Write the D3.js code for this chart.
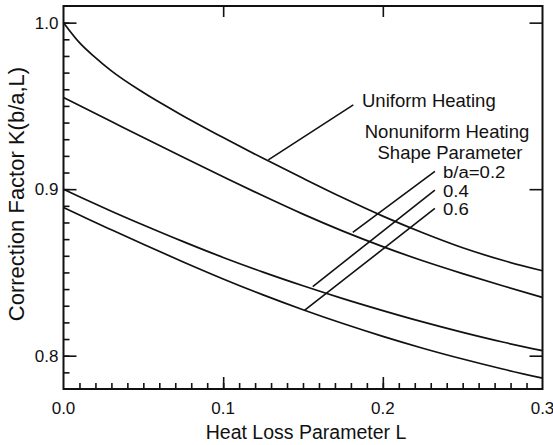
<!DOCTYPE html>
<html>
<head>
<meta charset="utf-8">
<script src="https://cdn.jsdelivr.net/npm/d3@7/dist/d3.min.js"></script>
<style>
  html, body { margin: 0; padding: 0; background: #fff; }
  svg { display: block; font-family: "Liberation Sans", Arial, Helvetica, sans-serif; }
</style>
</head>
<body>
<svg id="chart" width="553" height="445"></svg>
<script>
// Heat loss parameter L (x values shared by every curve)
const heatLoss = [0, 0.01, 0.02, 0.03, 0.05, 0.075, 0.1, 0.125, 0.15, 0.175, 0.2, 0.225, 0.25, 0.275, 0.3];

// Correction factor K(b/a, L) for each heating case
const uniform = [1.000, 0.988, 0.979, 0.971, 0.958, 0.944, 0.931, 0.9185, 0.9065, 0.8948, 0.8838, 0.8738, 0.8648, 0.8573, 0.851];
const shape02 = [0.955, 0.9502, 0.9454, 0.9406, 0.9310, 0.9192, 0.9075, 0.896, 0.885, 0.8748, 0.8655, 0.857, 0.8493, 0.842, 0.835];
const shape04 = [0.900, 0.8955, 0.8911, 0.8868, 0.8785, 0.8685, 0.8590, 0.8502, 0.8420, 0.8343, 0.8271, 0.8203, 0.8140, 0.8082, 0.803];
const shape06 = [0.889, 0.8845, 0.880, 0.8756, 0.8669, 0.8563, 0.8461, 0.8365, 0.8276, 0.8193, 0.8116, 0.8045, 0.798, 0.792, 0.7865];

const xTicks = [0.0, 0.1, 0.2, 0.3];
const yTicks = [0.8, 0.9, 1.0];

// Annotation text
const uniformLabel = "Uniform Heating";
const nonuniformLines = ["Nonuniform Heating", "Shape Parameter"];
const shapeLabels = ["b/a=0.2", "0.4", "0.6"];

const svg = d3.select("#chart");
const plotLeft = 63.5, plotRight = 542.5, plotTop = 6, plotBottom = 389;

const x = d3.scaleLinear().domain([0, 0.3]).range([plotLeft, plotRight]);
const y = d3.scaleLinear().domain([0.78, 1.01]).range([plotBottom, plotTop]);

const ink = "#111";

// Curves
const line = d3.line()
  .x((d, i) => x(heatLoss[i]))
  .y(d => y(d))
  .curve(d3.curveMonotoneX);

[uniform, shape02, shape04, shape06].forEach(series => {
  svg.append("path")
    .attr("d", line(series))
    .attr("fill", "none")
    .attr("stroke", ink)
    .attr("stroke-width", 1.7);
});

// Tick marks, all drawn inward from the frame
const minorX = d3.range(1, 30).map(i => i / 100);
const minorY = d3.range(79, 101).map(i => i / 100);

const bottomAxis = d3.axisBottom(x).tickValues(minorX)
  .tickSizeInner(-6).tickSizeOuter(0).tickFormat("");
svg.append("g").attr("transform", `translate(0,${plotBottom})`).call(bottomAxis);

const bottomMajor = d3.axisBottom(x).tickValues([0.1, 0.2])
  .tickSizeInner(-12).tickSizeOuter(0).tickFormat("");
svg.append("g").attr("transform", `translate(0,${plotBottom})`).call(bottomMajor);

const topMajor = d3.axisTop(x).tickValues([0.1, 0.2])
  .tickSizeInner(-11).tickSizeOuter(0).tickFormat("");
svg.append("g").attr("transform", `translate(0,${plotTop})`).call(topMajor);

const leftAxis = d3.axisLeft(y).tickValues(minorY)
  .tickSizeInner(-6).tickSizeOuter(0).tickFormat("");
svg.append("g").attr("transform", `translate(${plotLeft},0)`).call(leftAxis);

const leftMajor = d3.axisLeft(y).tickValues(yTicks)
  .tickSizeInner(-13).tickSizeOuter(0).tickFormat("");
svg.append("g").attr("transform", `translate(${plotLeft},0)`).call(leftMajor);

const rightMajor = d3.axisRight(y).tickValues(yTicks)
  .tickSizeInner(-13).tickSizeOuter(0).tickFormat("");
svg.append("g").attr("transform", `translate(${plotRight},0)`).call(rightMajor);

svg.selectAll(".domain").remove();
svg.selectAll(".tick line").attr("stroke", ink).attr("stroke-width", 1.6);

// Frame
svg.append("rect")
  .attr("x", plotLeft).attr("y", plotTop)
  .attr("width", plotRight - plotLeft).attr("height", plotBottom - plotTop)
  .attr("fill", "none").attr("stroke", ink).attr("stroke-width", 2);

// Tick labels
svg.append("g").selectAll("text").data(xTicks).join("text")
  .attr("x", d => x(d)).attr("y", plotBottom + 25)
  .attr("text-anchor", "middle")
  .attr("font-size", 17).attr("fill", ink)
  .text(d => d.toFixed(1));

svg.append("g").selectAll("text").data(yTicks).join("text")
  .attr("x", plotLeft - 5).attr("y", d => y(d) + 6)
  .attr("text-anchor", "end")
  .attr("font-size", 17).attr("fill", ink)
  .text(d => d.toFixed(1));

// Axis titles
svg.append("text")
  .attr("x", (plotLeft + plotRight) / 2 + 3).attr("y", 439)
  .attr("text-anchor", "middle")
  .attr("font-size", 19.5).attr("fill", ink)
  .text("Heat Loss Parameter L");

svg.append("text")
  .attr("transform", "translate(24,194) rotate(-90)")
  .attr("text-anchor", "middle")
  .attr("font-size", 22).attr("fill", ink)
  .text("Correction Factor K(b/a,L)");

// Annotations with leader lines (endpoints in data units)
const label = (txt, px, py, anchor, size, stretch) => svg.append("text")
  .attr("transform", `translate(${px},${py}) scale(${stretch || 1},1)`)
  .attr("text-anchor", anchor || "start")
  .attr("font-size", size || 18.5).attr("fill", ink)
  .text(txt);

const leader = (l0, k0, l1, k1) => svg.append("line")
  .attr("x1", x(l0)).attr("y1", y(k0))
  .attr("x2", x(l1)).attr("y2", y(k1))
  .attr("stroke", ink).attr("stroke-width", 1.6);

label(uniformLabel, 362, 107);
leader(0.1283, 0.9176, 0.1815, 0.9506);

label(nonuniformLines[0], 447, 138, "middle");
label(nonuniformLines[1], 450, 159, "middle");

const shapeBaselines = [178, 196.5, 215];
shapeLabels.forEach((t, i) => label(t, 443, shapeBaselines[i], "start", 16, 1.16));

leader(0.1812, 0.8740, 0.2326, 0.9107);
leader(0.1561, 0.8415, 0.2326, 0.8995);
leader(0.1509, 0.8272, 0.2326, 0.8884);
</script>
</body>
</html>
